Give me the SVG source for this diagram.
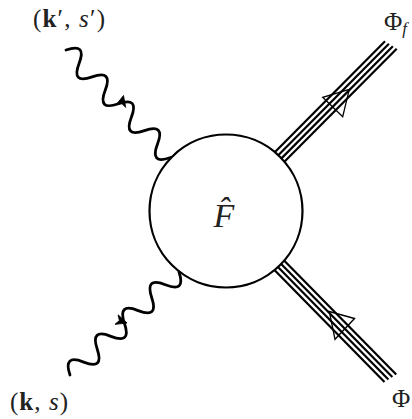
<svg xmlns="http://www.w3.org/2000/svg" width="412" height="419" viewBox="0 0 412 419">
<style>
.w{fill:none;stroke:#000;stroke-width:2.8;stroke-linecap:round;stroke-linejoin:round}
.b{fill:none;stroke:#000;stroke-width:2.2}
.oa{fill:none;stroke:#000;stroke-width:1.3;stroke-linejoin:miter}
.ah{fill:#000;stroke:#000;stroke-width:0.8;stroke-linejoin:round}
.t{font-family:"Liberation Serif","DejaVu Serif",serif;fill:#222}
</style>
<defs>
<path id="wave" d="M0,0 c6.25,-13.6 12.5,-13.6 18.75,0 c6.25,13.6 12.5,13.6 18.75,0 c6.25,-13.6 12.5,-13.6 18.75,0 c6.25,13.6 12.5,13.6 18.75,0 c6.25,-13.6 12.5,-13.6 18.75,0 c6.25,13.6 12.5,13.6 18.75,0 c6.25,-13.6 12.5,-13.6 18.75,0 c6.25,13.6 12.5,13.6 18.75,0"/>
<path id="stealth" d="M0,0 L-11,-5 L-8,0 L-11,5 Z"/>
</defs>
<g id="connectors">
<g id="photon-out" transform="translate(66,50) rotate(45.8)"><use href="#wave" class="w"/></g>
<use href="#stealth" class="ah" transform="translate(123.5,95.5) rotate(-76)"/>
<g id="photon-in" transform="translate(70,375) rotate(-43.4)"><use href="#wave" class="w"/></g>
<use href="#stealth" class="ah" transform="translate(127,323) rotate(18)"/>
<g id="scalar-out" transform="translate(226,211) rotate(-45.2)">
<line class="b" x1="76" y1="-6.75" x2="232.5" y2="-6.75"/>
<line class="b" x1="76.4" y1="-2.25" x2="233.5" y2="-2.25"/>
<line class="b" x1="76.4" y1="2.25" x2="234.5" y2="2.25"/>
<line class="b" x1="76" y1="6.75" x2="235.5" y2="6.75"/>
</g>
<path class="oa" d="M349.3,89.3 L322.7,97.3 L342.7,116.7 Z"/>
<g id="scalar-in" transform="translate(226,211) rotate(45.5)">
<line class="b" x1="76" y1="-6.75" x2="236" y2="-6.75"/>
<line class="b" x1="76.4" y1="-2.25" x2="235" y2="-2.25"/>
<line class="b" x1="76.4" y1="2.25" x2="234" y2="2.25"/>
<line class="b" x1="76" y1="6.75" x2="233" y2="6.75"/>
</g>
<path class="oa" d="M354.5,318.5 L329.3,311.5 L335,339.3 Z"/>
</g>
<g id="vertex">
<circle cx="226" cy="211" r="76.5" fill="#fff" stroke="#000" stroke-width="2.2"/>
<text class="t" x="224" y="227" font-size="34" font-style="italic" text-anchor="middle">F̂</text>
</g>
<g id="label-kp"><text class="t" x="33" y="27" font-size="25" textLength="72" lengthAdjust="spacing">(<tspan font-weight="bold">k</tspan>′, <tspan font-style="italic">s</tspan>′)</text></g>
<g id="label-k"><text class="t" x="10" y="410" font-size="25" textLength="58" lengthAdjust="spacing">(<tspan font-weight="bold">k</tspan>, <tspan font-style="italic">s</tspan>)</text></g>
<g id="label-phif"><text class="t" x="384" y="30" font-size="25">Φ<tspan font-size="17" font-style="italic" dy="4">f</tspan></text></g>
<g id="label-phi"><text class="t" x="392" y="407" font-size="25">Φ</text></g>
</svg>
